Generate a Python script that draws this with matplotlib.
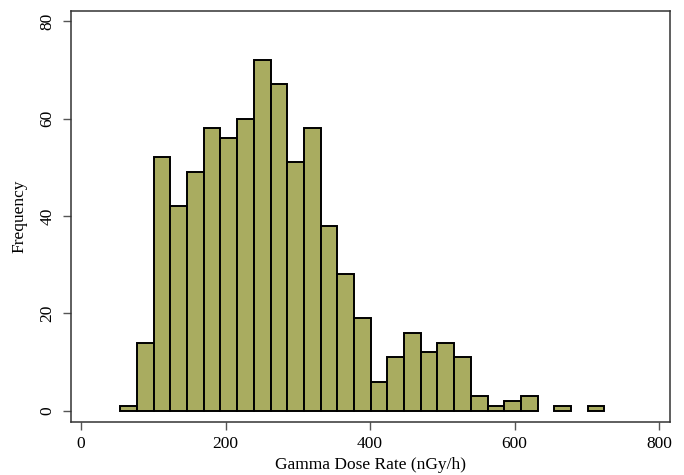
import matplotlib.pyplot as plt
import numpy as np

plt.rcParams['font.family'] = ['Liberation Serif', 'DejaVu Serif']

# histogram data
bin_start = 54.4
bin_width = 23.1
counts = [1, 14, 52, 42, 49, 58, 56, 60, 72, 67, 51, 58, 38, 28, 19,
          6, 11, 16, 12, 14, 11, 3, 1, 2, 3, 0, 1, 0, 1]
x_ticks = [0, 200, 400, 600, 800]
y_ticks = [0, 20, 40, 60, 80]

fig = plt.figure(figsize=(6.84, 4.75), dpi=100)
ax = fig.add_axes([0.1038, 0.1116, 0.8757, 0.8652])

edges = bin_start + bin_width * np.arange(len(counts) + 1)
counts = np.array(counts)
keep = counts > 0
ax.bar(edges[:-1][keep], counts[keep], width=bin_width, align='edge',
       color='#a9ac60', edgecolor='black', linewidth=1.4)

ax.set_xlim(-13.8, 815)
ax.set_ylim(-2.26, 82.05)
ax.set_xticks(x_ticks)
ax.set_yticks(y_ticks)

for s in ax.spines.values():
    s.set_color('#333333')
    s.set_linewidth(1.1)

ax.tick_params(axis='both', direction='out', length=6, width=1,
               color='#555555', labelsize=12.5)
ax.tick_params(axis='x', pad=4)
ax.tick_params(axis='y', pad=5, labelrotation=90)
for lab in ax.get_yticklabels():
    lab.set_va('center')

ax.set_xlabel('Gamma Dose Rate (nGy/h)', fontsize=12.5)
ax.set_ylabel('Frequency', fontsize=12.5)
ax.xaxis.set_label_coords(0.5, -0.085)
ax.yaxis.set_label_coords(-0.072, 0.5)

fig.savefig('out.png', dpi=100)
